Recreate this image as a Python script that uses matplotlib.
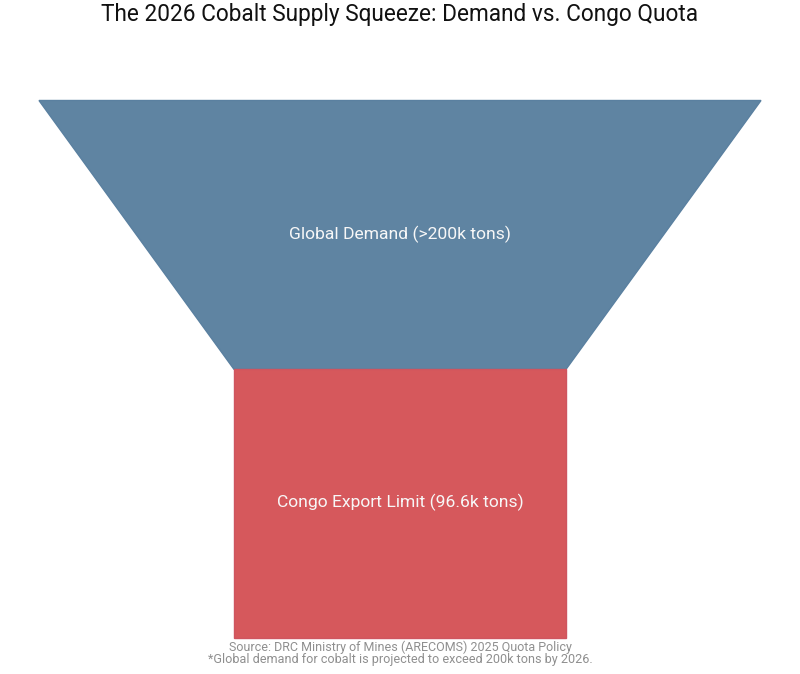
import matplotlib
matplotlib.use("Agg")
import matplotlib.pyplot as plt

stages = ["Global Demand (>200k tons)", "Congo Export Limit (96.6k tons)"]
values = [210, 96.6]
fills = ["#5f84a2", "#d6585c"]
edges = ["#5a80a0", "#cf5560"]

plt.rcParams['font.family'] = ['Roboto', 'DejaVu Sans']

fig = plt.figure(figsize=(8, 6.74), dpi=100)
ax = fig.add_axes([39/800, (674-638)/674, 722/800, 537.5/674])
ax.set_xlim(-max(values)/2, max(values)/2)
ax.set_ylim(len(values), 0)
ax.axis("off")

# each stage narrows to the next value, last one stays straight
for i, v in enumerate(values):
    bottom = values[i+1] if i+1 < len(values) else v
    xs = [-v/2, v/2, bottom/2, -bottom/2]
    ys = [i, i, i+1, i+1]
    ax.fill(xs, ys, facecolor=fills[i], edgecolor=edges[i], linewidth=1.0,
            joinstyle="miter", clip_on=False)
    ax.text(0, i+0.497, stages[i], color="#f7f7f7", fontsize=12.6, ha="center", va="center")

fig.text(0.5, 1-15/674, "The 2026 Cobalt Supply Squeeze: Demand vs. Congo Quota",
         color="#111111", fontsize=16.3, ha="center", va="center")
fig.text(0.5, 1-647/674, "Source: DRC Ministry of Mines (ARECOMS) 2025 Quota Policy",
         color="#8f8f8f", fontsize=9, ha="center", va="center")
fig.text(0.5, 1-660/674, "*Global demand for cobalt is projected to exceed 200k tons by 2026.",
         color="#8f8f8f", fontsize=9.05, ha="center", va="center")

fig.savefig("out.png", dpi=100)
